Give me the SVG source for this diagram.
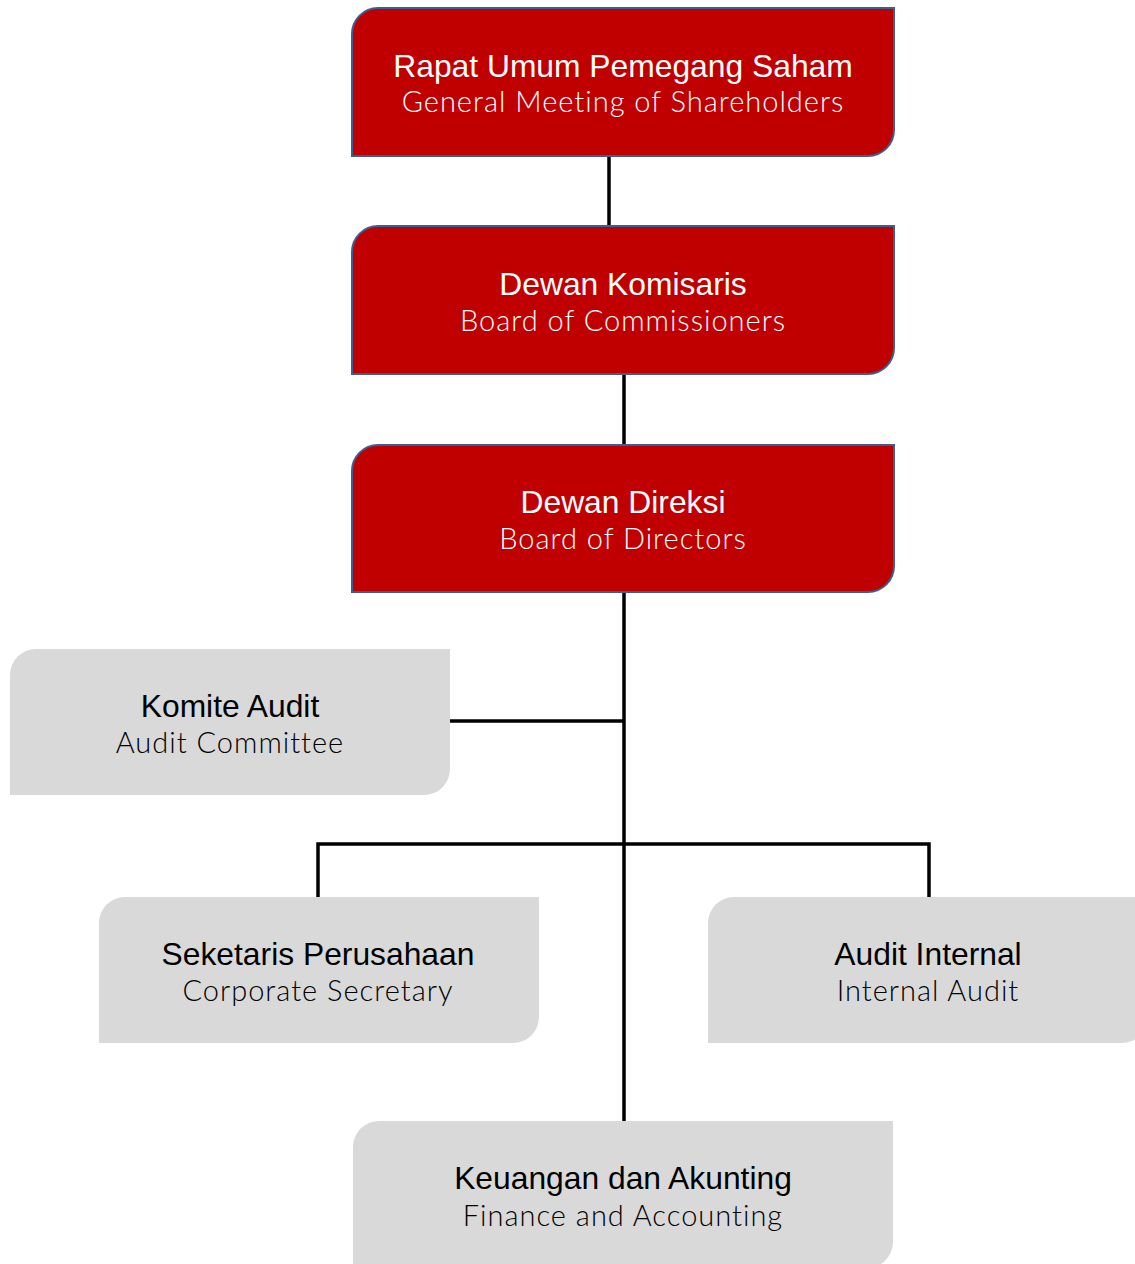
<svg xmlns="http://www.w3.org/2000/svg" width="1135" height="1264" viewBox="0 0 1135 1264">
  <style>
    .red { fill: #c00000; stroke: #3a5f94; stroke-width: 2; }
    .gray { fill: #d9d9d9; stroke: none; }
    .line { stroke: #000; stroke-width: 3.5; fill: none; }
    .t { font-family: "Liberation Sans", Arial, sans-serif; font-size: 31.8px; text-anchor: middle; }
    .s { font-family: Lato, "Open Sans", sans-serif; font-weight: 300; font-size: 29px; text-anchor: middle; letter-spacing: 1px; }
    .w { fill: #ffffff; }
    .k { fill: #000000; }
  </style>

  <g id="connectors">
    <line class="line" x1="609" y1="156" x2="609" y2="226"/>
    <line class="line" x1="624" y1="374" x2="624" y2="445"/>
    <line class="line" x1="624" y1="592" x2="624" y2="1121"/>
    <line class="line" x1="450" y1="721" x2="624" y2="721"/>
    <polyline class="line" points="318,901 318,844 929,844 929,897"/>
  </g>

  <g id="rups">
    <path class="red" d="M378,8 H894 V130 A26,26 0 0 1 868,156 H352 V34 A26,26 0 0 1 378,8 Z"/>
    <text class="t w" x="623" y="77">Rapat Umum Pemegang Saham</text>
    <text class="s w" x="623" y="112">General Meeting of Shareholders</text>
  </g>

  <g id="komisaris">
    <path class="red" d="M378,226 H894 V348 A26,26 0 0 1 868,374 H352 V252 A26,26 0 0 1 378,226 Z"/>
    <text class="t w" x="623" y="295">Dewan Komisaris</text>
    <text class="s w" x="623" y="331">Board of Commissioners</text>
  </g>

  <g id="direksi">
    <path class="red" d="M378,445 H894 V566 A26,26 0 0 1 868,592 H352 V471 A26,26 0 0 1 378,445 Z"/>
    <text class="t w" x="623" y="513">Dewan Direksi</text>
    <text class="s w" x="623" y="549">Board of Directors</text>
  </g>

  <g id="komite-audit">
    <path class="gray" d="M36,649 H450 V769 A26,26 0 0 1 424,795 H10 V675 A26,26 0 0 1 36,649 Z"/>
    <text class="t k" x="230" y="717">Komite Audit</text>
    <text class="s k" x="230" y="753">Audit Committee</text>
  </g>

  <g id="sekretaris">
    <path class="gray" d="M125,897 H539 V1017 A26,26 0 0 1 513,1043 H99 V923 A26,26 0 0 1 125,897 Z"/>
    <text class="t k" x="318" y="965">Seketaris Perusahaan</text>
    <text class="s k" x="318" y="1001">Corporate Secretary</text>
  </g>

  <g id="audit-internal">
    <path class="gray" d="M734,897 H1148 V1017 A26,26 0 0 1 1122,1043 H708 V923 A26,26 0 0 1 734,897 Z"/>
    <text class="t k" x="928" y="965">Audit Internal</text>
    <text class="s k" x="928" y="1001">Internal Audit</text>
  </g>

  <g id="keuangan">
    <path class="gray" d="M379,1121 H893 V1242 A26,26 0 0 1 867,1268 H353 V1147 A26,26 0 0 1 379,1121 Z"/>
    <text class="t k" x="623" y="1189">Keuangan dan Akunting</text>
    <text class="s k" x="623" y="1226">Finance and Accounting</text>
  </g>
</svg>
